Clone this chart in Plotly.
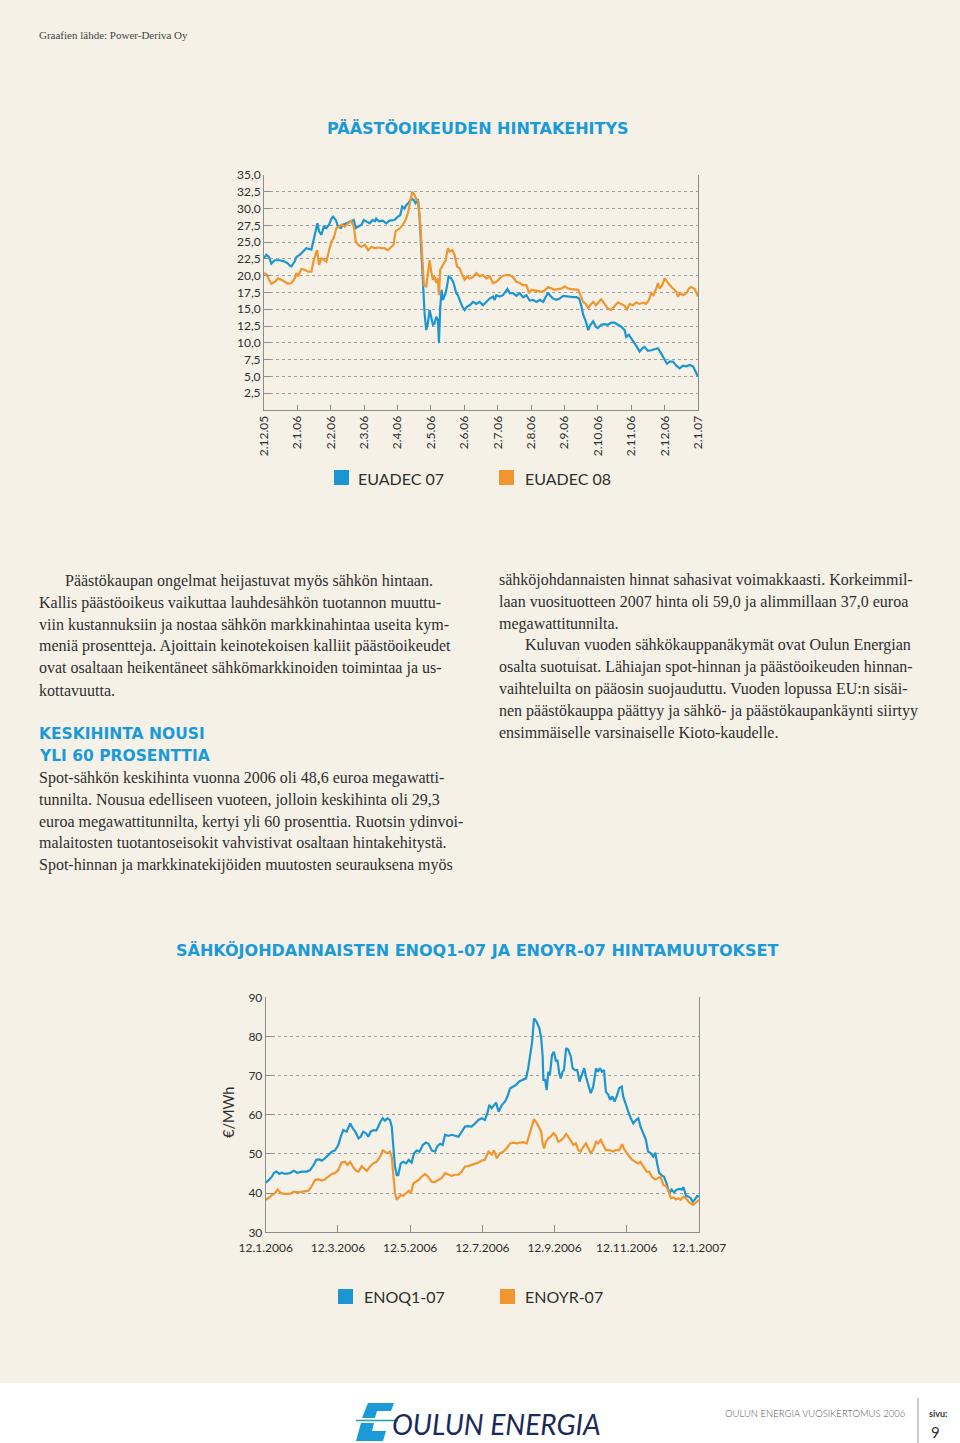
import plotly.graph_objects as go

# ---------------- DATA ----------------
# Chart 1: EUA emission allowance prices (EUR/t), x = months since 2.12.2005
TOP_TICK_LABELS = ["2.12.05", "2.1.06", "2.2.06", "2.3.06", "2.4.06", "2.5.06", "2.6.06",
                   "2.7.06", "2.8.06", "2.9.06", "2.10.06", "2.11.06", "2.12.06", "2.1.07"]
TOP_Y_TICKS = [2.5, 5.0, 7.5, 10.0, 12.5, 15.0, 17.5, 20.0, 22.5, 25.0, 27.5, 30.0, 32.5, 35.0]

EUADEC07_X = [
    0.00, 0.07, 0.15, 0.22, 0.32, 0.47, 0.62, 0.72, 0.77, 0.82,
    0.92, 0.97, 1.07, 1.17, 1.27, 1.42, 1.47, 1.55, 1.60, 1.65,
    1.72, 1.79, 1.87, 1.95, 2.02, 2.07, 2.15, 2.22, 2.30, 2.37,
    2.47, 2.57, 2.69, 2.75, 2.82, 2.92, 2.99, 3.07, 3.17, 3.25,
    3.32, 3.36, 3.44, 3.56, 3.66, 3.76, 3.91, 4.01, 4.08, 4.14,
    4.21, 4.26, 4.31, 4.36, 4.41, 4.48, 4.54, 4.61, 4.66, 4.71,
    4.76, 4.81, 4.86, 4.91, 4.96, 5.01, 5.06, 5.11, 5.16, 5.21,
    5.24, 5.28, 5.32, 5.36, 5.44, 5.48, 5.53, 5.61, 5.68, 5.76,
    5.81, 5.86, 5.94, 6.01, 6.08, 6.16, 6.26, 6.36, 6.46, 6.56,
    6.66, 6.76, 6.86, 6.91, 6.96, 7.06, 7.16, 7.29, 7.36, 7.46,
    7.56, 7.66, 7.76, 7.86, 7.96, 8.06, 8.16, 8.26, 8.36, 8.46,
    8.51, 8.56, 8.66, 8.76, 8.86, 8.96, 9.06, 9.16, 9.26, 9.36,
    9.44, 9.51, 9.56, 9.64, 9.71, 9.78, 9.86, 9.94, 10.00, 10.10,
    10.20, 10.30, 10.40, 10.50, 10.60, 10.70, 10.80, 10.85, 10.93, 11.00,
    11.10, 11.17, 11.25, 11.33, 11.40, 11.50, 11.60, 11.70, 11.80, 11.90,
    12.00, 12.07, 12.15, 12.25, 12.35, 12.45, 12.55, 12.65, 12.75, 12.85,
    12.93, 13.00,
]
EUADEC07_Y = [
    22.6, 23.1, 22.8, 21.8, 22.3, 22.3, 22.1, 21.8, 21.5, 21.4,
    22.1, 22.8, 23.1, 23.6, 24.1, 23.9, 25.1, 26.8, 27.8, 26.6,
    26.1, 27.3, 27.1, 27.6, 28.5, 28.8, 28.3, 27.3, 27.1, 27.6,
    27.8, 28.1, 28.3, 27.1, 27.3, 27.6, 28.3, 28.1, 27.8, 28.3,
    28.1, 28.5, 28.1, 28.2, 27.8, 28.2, 28.3, 28.8, 29.0, 30.3,
    30.0, 30.5, 30.8, 31.0, 31.5, 31.3, 30.8, 31.4, 28.8, 23.8,
    18.4, 14.4, 11.9, 12.9, 14.9, 13.9, 12.7, 12.9, 13.9, 13.4,
    10.0, 15.4, 17.9, 16.4, 17.4, 18.4, 19.9, 19.6, 18.9, 17.4,
    17.1, 16.4, 15.4, 14.9, 15.4, 15.6, 16.1, 15.8, 16.1, 15.6,
    16.1, 16.6, 16.9, 16.4, 17.1, 16.9, 17.1, 18.0, 17.4, 17.4,
    17.0, 17.4, 16.8, 17.1, 16.3, 16.4, 16.1, 16.4, 16.1, 17.1,
    17.5, 17.1, 16.6, 16.4, 16.6, 17.0, 16.9, 16.9, 16.8, 16.8,
    16.6, 15.4, 14.2, 13.2, 11.9, 12.7, 13.2, 12.4, 12.2, 12.7,
    12.8, 12.7, 13.0, 13.0, 12.7, 12.4, 11.9, 10.9, 11.2, 10.7,
    9.9, 9.4, 8.7, 9.2, 9.4, 8.8, 8.9, 9.0, 9.2, 8.4,
    7.5, 6.9, 7.2, 7.2, 6.6, 6.2, 6.6, 6.5, 6.7, 6.5,
    5.7, 5.0,
]

EUADEC08_X = [
    0.00, 0.09, 0.15, 0.22, 0.32, 0.42, 0.52, 0.62, 0.72, 0.82,
    0.92, 0.97, 1.02, 1.12, 1.22, 1.32, 1.42, 1.49, 1.59, 1.65,
    1.72, 1.79, 1.87, 1.95, 2.02, 2.09, 2.17, 2.25, 2.32, 2.42,
    2.52, 2.62, 2.69, 2.75, 2.82, 2.92, 3.02, 3.12, 3.22, 3.32,
    3.42, 3.52, 3.61, 3.71, 3.81, 3.88, 3.94, 4.01, 4.08, 4.16,
    4.24, 4.31, 4.38, 4.44, 4.51, 4.56, 4.62, 4.68, 4.74, 4.79,
    4.86, 4.92, 4.96, 5.01, 5.06, 5.11, 5.16, 5.21, 5.24, 5.28,
    5.36, 5.44, 5.51, 5.56, 5.64, 5.71, 5.78, 5.86, 5.94, 6.01,
    6.08, 6.16, 6.26, 6.36, 6.46, 6.56, 6.66, 6.76, 6.86, 6.96,
    7.06, 7.16, 7.26, 7.36, 7.46, 7.56, 7.66, 7.76, 7.86, 7.94,
    8.01, 8.11, 8.21, 8.31, 8.41, 8.51, 8.61, 8.71, 8.81, 8.91,
    9.01, 9.11, 9.21, 9.31, 9.41, 9.48, 9.56, 9.64, 9.71, 9.78,
    9.86, 9.94, 10.04, 10.10, 10.20, 10.30, 10.40, 10.50, 10.60, 10.70,
    10.80, 10.87, 10.95, 11.05, 11.15, 11.25, 11.35, 11.45, 11.53, 11.60,
    11.67, 11.75, 11.80, 11.85, 11.93, 12.00, 12.07, 12.15, 12.25, 12.35,
    12.40, 12.47, 12.55, 12.65, 12.73, 12.80, 12.90, 12.95, 13.00,
]
EUADEC08_Y = [
    20.4, 20.1, 19.4, 18.8, 19.1, 19.6, 19.4, 19.1, 18.8, 18.9,
    19.6, 20.4, 19.9, 21.0, 20.9, 20.6, 20.6, 22.3, 23.8, 21.6,
    22.6, 22.4, 22.1, 23.8, 25.1, 25.6, 27.1, 27.3, 27.6, 27.3,
    27.8, 28.1, 27.3, 25.1, 24.6, 24.3, 24.6, 23.8, 24.3, 24.1,
    24.2, 24.1, 24.1, 23.8, 24.3, 24.6, 26.6, 26.8, 27.1, 27.6,
    28.3, 29.3, 30.8, 32.5, 32.0, 31.4, 31.0, 27.8, 22.8, 18.6,
    18.4, 20.4, 22.3, 20.6, 19.4, 19.9, 18.9, 19.6, 17.1, 20.9,
    21.6, 22.3, 24.1, 23.6, 23.8, 23.1, 21.4, 21.1, 20.1, 19.4,
    19.9, 19.6, 19.8, 20.4, 19.9, 20.1, 19.6, 19.9, 18.9, 19.1,
    19.6, 20.0, 20.1, 20.1, 19.8, 19.1, 18.9, 18.6, 18.6, 17.4,
    17.9, 17.8, 17.6, 17.6, 17.8, 18.3, 18.1, 17.9, 18.0, 18.1,
    18.4, 18.1, 18.0, 17.9, 17.9, 17.1, 16.1, 15.8, 15.1, 15.7,
    16.1, 15.6, 16.1, 16.5, 15.8, 15.1, 14.9, 15.4, 16.0, 15.8,
    15.5, 15.0, 15.8, 15.6, 16.0, 15.8, 16.0, 15.8, 16.4, 17.4,
    17.1, 18.1, 18.9, 18.1, 18.6, 19.6, 19.1, 18.6, 18.1, 17.6,
    16.9, 17.4, 17.1, 17.4, 18.1, 18.3, 18.0, 17.4, 16.9,
]

# Chart 2: electricity derivatives (EUR/MWh), x = months since 12.1.2006
BOT_TICK_VALS = [0, 2, 4, 6, 8, 10, 12]
BOT_TICK_LABELS = ["12.1.2006", "12.3.2006", "12.5.2006", "12.7.2006",
                   "12.9.2006", "12.11.2006", "12.1.2007"]
BOT_Y_TICKS = [30, 40, 50, 60, 70, 80, 90]

ENOQ1_X = [
    0.00, 0.07, 0.17, 0.23, 0.30, 0.38, 0.44, 0.54, 0.67, 0.77,
    0.88, 1.00, 1.14, 1.23, 1.33, 1.40, 1.49, 1.55, 1.64, 1.74,
    1.83, 1.92, 2.01, 2.08, 2.15, 2.24, 2.34, 2.41, 2.48, 2.57,
    2.63, 2.70, 2.78, 2.84, 2.91, 2.98, 3.06, 3.12, 3.18, 3.24,
    3.30, 3.37, 3.44, 3.49, 3.53, 3.58, 3.63, 3.67, 3.74, 3.81,
    3.89, 3.96, 4.04, 4.11, 4.18, 4.26, 4.35, 4.44, 4.51, 4.60,
    4.69, 4.75, 4.83, 4.90, 4.97, 5.06, 5.15, 5.24, 5.34, 5.43,
    5.52, 5.61, 5.70, 5.80, 5.89, 5.98, 6.07, 6.14, 6.19, 6.26,
    6.32, 6.38, 6.45, 6.54, 6.63, 6.70, 6.77, 6.84, 6.93, 7.02,
    7.12, 7.21, 7.27, 7.34, 7.38, 7.43, 7.50, 7.58, 7.63, 7.67,
    7.69, 7.74, 7.78, 7.83, 7.87, 7.93, 7.98, 8.04, 8.08, 8.13,
    8.17, 8.22, 8.26, 8.32, 8.38, 8.45, 8.50, 8.57, 8.63, 8.69,
    8.75, 8.82, 8.87, 8.94, 9.00, 9.07, 9.15, 9.20, 9.26, 9.31,
    9.37, 9.42, 9.49, 9.54, 9.60, 9.66, 9.72, 9.79, 9.86, 9.90,
    9.98, 10.04, 10.11, 10.18, 10.26, 10.32, 10.38, 10.46, 10.53, 10.59,
    10.66, 10.73, 10.79, 10.84, 10.90, 10.96, 11.03, 11.10, 11.18, 11.24,
    11.31, 11.38, 11.46, 11.52, 11.57, 11.64, 11.71, 11.77, 11.83, 11.89,
    11.95, 12.00,
]
ENOQ1_Y = [
    42.7, 43.2, 44.2, 45.2, 45.5, 44.9, 45.2, 44.9, 45.1, 45.7,
    45.2, 45.5, 45.5, 45.9, 47.2, 48.5, 48.6, 48.3, 48.9, 49.7,
    50.6, 50.9, 52.3, 54.4, 56.1, 55.7, 57.8, 56.6, 55.7, 54.0,
    54.4, 55.7, 55.3, 54.4, 55.7, 56.1, 56.0, 57.0, 58.3, 59.1,
    58.5, 59.1, 58.7, 57.0, 51.9, 46.8, 44.6, 44.6, 47.6, 48.0,
    47.6, 48.5, 47.8, 50.2, 50.9, 50.6, 52.3, 52.9, 52.6, 50.9,
    50.6, 51.9, 52.6, 52.3, 54.9, 54.6, 54.9, 54.6, 54.4, 55.7,
    57.0, 57.1, 57.0, 57.8, 58.7, 59.1, 58.7, 60.4, 62.5, 61.7,
    62.3, 63.1, 60.8, 62.5, 63.4, 64.8, 66.8, 67.2, 67.6, 68.5,
    68.9, 69.3, 71.9, 76.6, 78.7, 84.6, 83.8, 82.1, 79.5, 74.9,
    68.9, 68.9, 66.3, 71.0, 70.2, 75.3, 76.1, 73.6, 74.0, 70.6,
    69.3, 71.0, 71.4, 77.0, 76.6, 74.9, 71.9, 71.4, 71.4, 68.5,
    70.2, 71.9, 69.7, 67.2, 65.5, 67.2, 71.9, 71.0, 71.9, 71.0,
    71.4, 65.9, 65.1, 63.8, 64.7, 63.4, 64.7, 66.8, 67.2, 64.7,
    62.1, 60.8, 59.1, 57.8, 58.7, 59.1, 57.0, 54.9, 53.6, 50.6,
    50.2, 49.3, 50.3, 47.6, 45.1, 44.6, 44.2, 42.5, 40.0, 40.9,
    40.2, 40.9, 41.1, 40.9, 41.5, 39.3, 39.1, 38.7, 37.8, 38.4,
    39.3, 39.1,
]

ENOYR_X = [
    0.00, 0.07, 0.17, 0.26, 0.33, 0.42, 0.54, 0.67, 0.78, 0.90,
    1.04, 1.18, 1.27, 1.37, 1.46, 1.55, 1.64, 1.74, 1.83, 1.92,
    2.01, 2.10, 2.20, 2.26, 2.34, 2.41, 2.50, 2.57, 2.66, 2.72,
    2.80, 2.89, 2.98, 3.07, 3.17, 3.24, 3.30, 3.37, 3.44, 3.49,
    3.53, 3.58, 3.63, 3.68, 3.74, 3.81, 3.89, 3.96, 4.02, 4.09,
    4.16, 4.24, 4.32, 4.41, 4.50, 4.60, 4.69, 4.78, 4.87, 4.97,
    5.06, 5.15, 5.24, 5.34, 5.43, 5.52, 5.61, 5.70, 5.80, 5.89,
    5.98, 6.07, 6.17, 6.26, 6.32, 6.40, 6.49, 6.58, 6.67, 6.77,
    6.86, 6.95, 7.04, 7.14, 7.23, 7.30, 7.37, 7.43, 7.50, 7.58,
    7.63, 7.67, 7.71, 7.76, 7.83, 7.89, 7.97, 8.04, 8.10, 8.17,
    8.24, 8.32, 8.38, 8.45, 8.52, 8.59, 8.66, 8.72, 8.80, 8.87,
    8.94, 9.00, 9.07, 9.15, 9.21, 9.28, 9.35, 9.42, 9.52, 9.61,
    9.70, 9.79, 9.87, 9.92, 10.00, 10.07, 10.14, 10.23, 10.32, 10.38,
    10.46, 10.55, 10.62, 10.69, 10.78, 10.87, 10.94, 11.01, 11.09, 11.15,
    11.22, 11.29, 11.36, 11.43, 11.49, 11.57, 11.64, 11.71, 11.77, 11.84,
    11.92, 12.00,
]
ENOYR_Y = [
    38.3, 38.7, 39.5, 40.0, 40.9, 40.0, 39.8, 39.8, 40.4, 40.2,
    40.4, 40.6, 41.7, 43.4, 43.5, 43.2, 43.5, 44.2, 44.9, 45.1,
    45.9, 47.8, 48.0, 47.2, 48.0, 46.8, 45.7, 45.5, 46.9, 46.3,
    45.7, 46.8, 47.6, 48.0, 49.3, 50.9, 50.6, 50.2, 50.6, 49.3,
    45.1, 40.0, 38.3, 38.9, 39.5, 39.3, 40.0, 40.6, 40.0, 42.5,
    42.9, 43.4, 44.2, 44.9, 44.2, 42.9, 42.9, 43.4, 43.8, 45.1,
    44.7, 44.4, 44.7, 44.7, 45.5, 46.8, 46.9, 47.2, 47.4, 47.8,
    48.3, 48.5, 50.6, 49.8, 50.9, 48.9, 50.2, 50.6, 51.4, 52.7,
    52.9, 52.7, 52.9, 53.0, 52.7, 54.9, 56.6, 58.9, 58.0, 56.6,
    55.7, 52.7, 51.4, 53.1, 54.0, 54.4, 55.3, 54.6, 53.1, 53.4,
    54.0, 55.1, 54.4, 53.4, 52.3, 52.7, 51.0, 50.6, 51.9, 52.7,
    51.4, 50.2, 51.0, 53.1, 52.7, 53.6, 52.3, 51.0, 51.0, 50.6,
    51.0, 51.0, 52.5, 51.4, 50.2, 49.3, 48.6, 48.0, 47.6, 48.0,
    46.8, 45.5, 45.5, 44.2, 43.5, 43.8, 44.2, 42.1, 41.8, 40.6,
    38.7, 38.9, 38.4, 38.7, 38.3, 39.1, 38.7, 37.8, 37.4, 37.0,
    37.6, 38.3,
]

# Text content
SOURCE_NOTE = "Graafien lähde: Power-Deriva Oy"
TITLE_1 = "PÄÄSTÖOIKEUDEN HINTAKEHITYS"
TITLE_2 = "SÄHKÖJOHDANNAISTEN ENOQ1-07 JA ENOYR-07 HINTAMUUTOKSET"
LEGEND_1 = ["EUADEC 07", "EUADEC 08"]
LEGEND_2 = ["ENOQ1-07", "ENOYR-07"]
Y_TITLE_2 = "€/MWh"

LEFT_COL = [
    ("indent", "Päästökaupan ongelmat heijastuvat myös sähkön hintaan."),
    ("", "Kallis päästöoikeus vaikuttaa lauhdesähkön tuotannon muuttu-"),
    ("", "viin kustannuksiin ja nostaa sähkön markkinahintaa useita kym-"),
    ("", "meniä prosentteja. Ajoittain keinotekoisen kalliit päästöoikeudet"),
    ("", "ovat osaltaan heikentäneet sähkömarkkinoiden toimintaa ja us-"),
    ("", "kottavuutta."),
]
SUBHEAD = ["KESKIHINTA NOUSI", "YLI 60 PROSENTTIA"]
LEFT_COL_2 = [
    "Spot-sähkön keskihinta vuonna 2006 oli 48,6 euroa megawatti-",
    "tunnilta. Nousua edelliseen vuoteen, jolloin keskihinta oli 29,3",
    "euroa megawattitunnilta, kertyi yli 60 prosenttia. Ruotsin ydinvoi-",
    "malaitosten tuotantoseisokit vahvistivat osaltaan hintakehitystä.",
    "Spot-hinnan ja markkinatekijöiden muutosten seurauksena myös",
]
RIGHT_COL = [
    ("", "sähköjohdannaisten hinnat sahasivat voimakkaasti. Korkeimmil-"),
    ("", "laan vuosituotteen 2007 hinta oli 59,0 ja alimmillaan 37,0 euroa"),
    ("", "megawattitunnilta."),
    ("indent", "Kuluvan vuoden sähkökauppanäkymät ovat Oulun Energian"),
    ("", "osalta suotuisat. Lähiajan spot-hinnan ja päästöoikeuden hinnan-"),
    ("", "vaihteluilta on pääosin suojauduttu. Vuoden lopussa EU:n sisäi-"),
    ("", "nen päästökauppa päättyy ja sähkö- ja päästökaupankäynti siirtyy"),
    ("", "ensimmäiselle varsinaiselle Kioto-kaudelle."),
]
FOOTER_BRAND = "OULUN ENERGIA"
FOOTER_REPORT = "OULUN ENERGIA VUOSIKERTOMUS 2006"
FOOTER_PAGE_LABEL = "sivu:"
FOOTER_PAGE = "9"

# ---------------- STYLE / LAYOUT ----------------
W, H = 960, 1443
BG = "#f5f1e7"
BLUE = "#1b96d2"
ORANGE = "#f1952f"
HEAD_BLUE = "#1a9ad7"
GRID = "#9d9d9d"
AXIS = "#8c8c8c"
TXT = "#2e2e2e"
SANS = "Lato"
HEAD = "DejaVu Sans"
SERIF = "Liberation Serif"


def px(x):
    return x / W


def py(y):
    return 1 - y / H


fig = go.Figure()
fig.add_trace(go.Scatter(x=EUADEC07_X, y=EUADEC07_Y, xaxis="x", yaxis="y", mode="lines",
                         line=dict(color=BLUE, width=2.2), showlegend=False, name=LEGEND_1[0]))
fig.add_trace(go.Scatter(x=EUADEC08_X, y=EUADEC08_Y, xaxis="x", yaxis="y", mode="lines",
                         line=dict(color=ORANGE, width=2.2), showlegend=False, name=LEGEND_1[1]))
fig.add_trace(go.Scatter(x=ENOQ1_X, y=ENOQ1_Y, xaxis="x2", yaxis="y2", mode="lines",
                         line=dict(color=BLUE, width=2.2), showlegend=False, name=LEGEND_2[0]))
fig.add_trace(go.Scatter(x=ENOYR_X, y=ENOYR_Y, xaxis="x2", yaxis="y2", mode="lines",
                         line=dict(color=ORANGE, width=2.2), showlegend=False, name=LEGEND_2[1]))

tick_font = dict(family=SANS, size=12, color=TXT)
common_x = dict(showline=True, linecolor=AXIS, linewidth=1, showgrid=False, zeroline=False,
                ticks="inside", tickcolor=AXIS, tickwidth=1, tickfont=tick_font,
                fixedrange=True, automargin=False)
common_y = dict(showline=True, mirror=True, linecolor=AXIS, linewidth=1, showgrid=True,
                gridcolor=GRID, griddash="dot", gridwidth=1, zeroline=False,
                ticks="inside", tickcolor=AXIS, tickwidth=1, ticklen=7,
                tickfont=tick_font, fixedrange=True, automargin=False)

annotations = []


def text(x, y, s, size, color=TXT, family=SANS, xanchor="left", weight="normal",
         angle=0, style="normal"):
    annotations.append(dict(
        x=px(x), y=py(y), xref="paper", yref="paper", text=s, showarrow=False,
        xanchor=xanchor, yanchor="middle", textangle=angle,
        font=dict(family=family, size=size, color=color, weight=weight, style=style)))


# header and titles
text(37, 35, SOURCE_NOTE, 11, color="#444", family=SERIF)
text(477.5, 128, TITLE_1, 16, color=HEAD_BLUE, family=HEAD, xanchor="center", weight="bold")
text(477, 950, TITLE_2, 16, color=HEAD_BLUE, family=HEAD, xanchor="center", weight="bold")

# legends (labels)
text(356, 478, LEGEND_1[0], 16)
text(523, 478, LEGEND_1[1], 16)
text(362, 1296, LEGEND_2[0], 16)
text(523, 1296, LEGEND_2[1], 16)

# y-axis title of chart 2
text(228, 1113, Y_TITLE_2, 14.5, angle=-90, xanchor="center")

# body text
BODY = 16
for i, (flag, line) in enumerate(LEFT_COL):
    text(63 if flag else 37, 581 + i * 21.8, line, BODY, family=SERIF)
text(37, 734, SUBHEAD[0], 15.5, color=HEAD_BLUE, family=HEAD, weight="bold")
text(37, 756, SUBHEAD[1], 15.5, color=HEAD_BLUE, family=HEAD, weight="bold")
for i, line in enumerate(LEFT_COL_2):
    text(37, 778 + i * 21.8, line, BODY, family=SERIF)
for i, (flag, line) in enumerate(RIGHT_COL):
    text(523 if flag else 497, 580 + i * 21.8, line, BODY, family=SERIF)

# footer
text(390, 1424, FOOTER_BRAND, 28, color="#1c2a5a", style="italic")
text(907, 1413, FOOTER_REPORT, 9.5, color="#555", xanchor="right", weight=300)
text(927, 1413, FOOTER_PAGE_LABEL, 9, color="#333", weight="bold")
text(929, 1432, FOOTER_PAGE, 15, color="#333")

shapes = []
# footer white band
shapes.append(dict(type="rect", xref="paper", yref="paper", x0=0, x1=1, y0=0, y1=py(1383),
                   fillcolor="white", line=dict(width=0), layer="below"))
shapes.append(dict(type="line", xref="paper", yref="paper", x0=px(918), x1=px(918),
                   y0=py(1398), y1=py(1443), line=dict(color="#999", width=1)))


def poly(points, color):
    d = "M " + " L ".join(f"{px(a):.5f},{py(b):.5f}" for a, b in points) + " Z"
    shapes.append(dict(type="path", xref="paper", yref="paper", path=d,
                       fillcolor=color, line=dict(width=0)))


# logo mark (stylised E)
poly([(368, 1403), (394, 1403), (391, 1411), (377, 1411), (375, 1418), (362, 1418)], HEAD_BLUE)
poly([(361, 1423), (374, 1423), (372, 1431), (386, 1431), (383, 1441), (356, 1441)], HEAD_BLUE)
shapes.append(dict(type="line", xref="paper", yref="paper", x0=px(356), x1=px(398),
                   y0=py(1420.5), y1=py(1420.5), line=dict(color="#17a3a8", width=1.5)))

# legend swatches
for (x0, y0s, c) in [(334, 470, BLUE), (499, 470, ORANGE), (338, 1289, BLUE), (500, 1289, ORANGE)]:
    shapes.append(dict(type="rect", xref="paper", yref="paper", x0=px(x0), x1=px(x0 + 15),
                       y0=py(y0s + 15), y1=py(y0s), fillcolor=c, line=dict(width=0)))

fig.update_layout(
    template="none",
    width=W, height=H, autosize=False,
    margin=dict(l=0, r=0, t=0, b=0, pad=0, autoexpand=False),
    paper_bgcolor=BG, plot_bgcolor="rgba(0,0,0,0)",
    separators=", ",
    showlegend=False,
    xaxis=dict(common_x, domain=[px(264), px(698)], range=[0, 13], anchor="y",
               tickvals=list(range(14)), ticktext=TOP_TICK_LABELS, tickangle=-90, ticklen=5),
    yaxis=dict(common_y, domain=[py(410), py(175)], range=[0, 35], anchor="x",
               tickvals=TOP_Y_TICKS, tickformat=".1f"),
    xaxis2=dict(common_x, domain=[px(265.7), px(699)], range=[0, 12], anchor="y2",
                tickvals=BOT_TICK_VALS, ticktext=BOT_TICK_LABELS, ticklen=7,
                ticklabelstandoff=4),
    yaxis2=dict(common_y, domain=[py(1232.3), py(997.3)], range=[30, 90], anchor="x2",
                tickvals=BOT_Y_TICKS, tickformat="d"),
    annotations=annotations,
    shapes=shapes,
)

fig.write_html(
    "out.html",
    config={"displayModeBar": False},
    post_script="document.body.style.margin='0';document.body.style.overflow='hidden';",
)
